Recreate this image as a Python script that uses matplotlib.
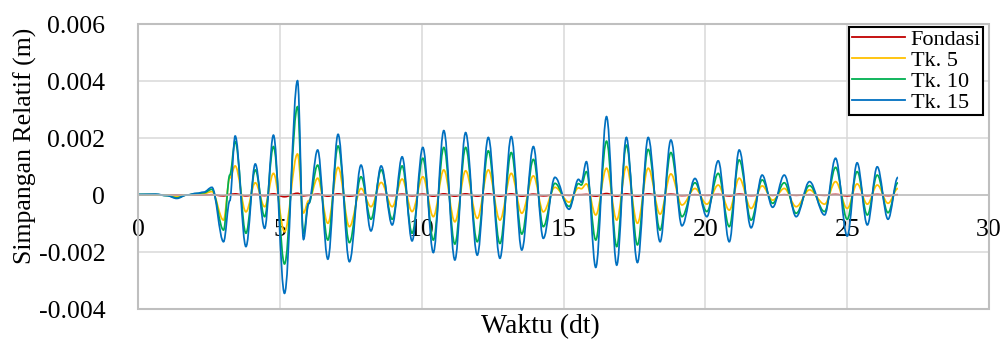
import matplotlib

matplotlib.use("Agg")
import matplotlib.pyplot as plt
from matplotlib.lines import Line2D
from matplotlib.patches import PathPatch, Rectangle
from matplotlib.path import Path

plt.rcParams["font.family"] = ["Liberation Serif", "DejaVu Serif"]

# turning points (peaks / troughs) of the response, time in seconds
t_ext = [
    0.00, 0.60, 1.00, 1.35, 1.70, 2.06, 2.30, 2.59,
    3.00, 3.22, 3.41, 3.79, 4.12, 4.45, 4.76, 5.15, 5.61, 5.82,
    6.00, 6.32, 6.68, 7.04, 7.44, 7.85, 8.20, 8.56, 8.95, 9.30,
    9.65, 10.03, 10.40, 10.77, 11.16, 11.54, 11.95, 12.34, 12.75, 13.15,
    13.52, 13.93, 14.28, 14.69, 15.19, 15.52, 15.62, 15.80, 16.13, 16.51,
    16.87, 17.21, 17.60, 17.98, 18.40, 18.78, 19.17, 19.63, 20.05, 20.45,
    20.84, 21.19, 21.61, 22.00, 22.37, 22.78, 23.20, 23.67, 24.20, 24.59,
    25.00, 25.35, 25.71, 26.06, 26.44, 26.79,
]

fondasi = [
    0.0, 0.0, 0.0, 0.0, 0.0, 0.0, 0.0, 0.00001,
    -0.00003, 0.00002, 0.00004, -0.00003, 0.00002, -0.00002, 0.00004, -0.00006, 0.00006, -0.00003,
    -0.00001, 0.00003, -0.00004, 0.00004, -0.00004, 0.00002, -0.00002, 0.00002, -0.00002, 0.00003,
    -0.00003, 0.00003, -0.00004, 0.00004, -0.00004, 0.00004, -0.00004, 0.00004, -0.00004, 0.00004,
    -0.00004, 0.00003, -0.00003, 0.00001, -0.00001, 0.00001, 0.00001, 0.00002, -0.00004, 0.00005,
    -0.00004, 0.00004, -0.00004, 0.00004, -0.00003, 0.00003, -0.00002, 0.00001, -0.00001, 0.00002,
    -0.00003, 0.00003, -0.00002, 0.00001, -0.00001, 0.00001, -0.00001, 0.00001, -0.00001, 0.00002,
    -0.00003, 0.00002, -0.00002, 0.00002, -0.00002, 0.00001,
]

tk5 = [
    0.00001, 0.00001, -0.00001, -0.00006, 0.0, 0.00003, 0.00005, 0.00012,
    -0.00088, 0.00060, 0.00102, -0.00059, 0.00043, -0.00041, 0.00076, -0.00129, 0.00144, -0.00063,
    -0.00020, 0.00059, -0.00099, 0.00097, -0.00111, 0.00023, -0.00041, 0.00044, -0.00041, 0.00056,
    -0.00058, 0.00064, -0.00076, 0.00088, -0.00094, 0.00085, -0.00082, 0.00088, -0.00088, 0.00076,
    -0.00064, 0.00067, -0.00059, 0.00027, -0.00025, 0.00025, 0.00022, 0.00039, -0.00070, 0.00094,
    -0.00088, 0.00100, -0.00099, 0.00094, -0.00067, 0.00074, -0.00035, 0.00023, -0.00032, 0.00035,
    -0.00053, 0.00059, -0.00047, 0.00032, -0.00018, 0.00023, -0.00041, 0.00018, -0.00032, 0.00047,
    -0.00047, 0.00039, -0.00032, 0.00035, -0.00029, 0.00023,
]

tk10 = [
    0.00002, 0.00002, -0.00002, -0.00010, 0.0, 0.00005, 0.00008, 0.00020,
    -0.00123, 0.00070, 0.00187, -0.00134, 0.00088, -0.00076, 0.00170, -0.00242, 0.00310, -0.00134,
    -0.00030, 0.00105, -0.00158, 0.00172, -0.00167, 0.00064, -0.00085, 0.00088, -0.00085, 0.00102,
    -0.00134, 0.00129, -0.00158, 0.00167, -0.00172, 0.00167, -0.00164, 0.00155, -0.00170, 0.00149,
    -0.00137, 0.00125, -0.00111, 0.00041, -0.00040, 0.00040, 0.00035, 0.00082, -0.00158, 0.00189,
    -0.00181, 0.00175, -0.00175, 0.00160, -0.00123, 0.00149, -0.00076, 0.00043, -0.00058, 0.00076,
    -0.00111, 0.00123, -0.00088, 0.00053, -0.00029, 0.00043, -0.00064, 0.00033, -0.00058, 0.00097,
    -0.00085, 0.00082, -0.00070, 0.00070, -0.00062, 0.00043,
]

tk15 = [
    0.00002, 0.00003, -0.00002, -0.00012, 0.0, 0.00006, 0.00010, 0.00027,
    -0.00164, -0.00020, 0.00207, -0.00181, 0.00109, -0.00117, 0.00210, -0.00345, 0.00401, -0.00156,
    -0.00030, 0.00158, -0.00225, 0.00213, -0.00234, 0.00105, -0.00126, 0.00102, -0.00105, 0.00134,
    -0.00161, 0.00167, -0.00202, 0.00226, -0.00228, 0.00219, -0.00211, 0.00202, -0.00222, 0.00205,
    -0.00193, 0.00170, -0.00152, 0.00062, -0.00050, 0.00055, 0.00045, 0.00117, -0.00254, 0.00275,
    -0.00246, 0.00202, -0.00237, 0.00202, -0.00164, 0.00193, -0.00108, 0.00058, -0.00076, 0.00120,
    -0.00164, 0.00158, -0.00115, 0.00070, -0.00043, 0.00070, -0.00076, 0.00047, -0.00070, 0.00129,
    -0.00144, 0.00113, -0.00105, 0.00099, -0.00085, 0.00062,
]

series_names = ["Fondasi", "Tk. 5", "Tk. 10", "Tk. 15"]
series_values = [fondasi, tk5, tk10, tk15]
series_colors = ["#C00000", "#FFC000", "#00B050", "#0070C0"]

x_ticks = [0, 5, 10, 15, 20, 25, 30]
y_ticks = [-0.004, -0.002, 0, 0.002, 0.004, 0.006]
y_tick_labels = ["-0.004", "-0.002", "0", "0.002", "0.004", "0.006"]


def smooth_path(ts, vs, k=0.36):
    # cubic bezier through the turning points, flat tangent at each one
    verts = [(ts[0], vs[0])]
    codes = [Path.MOVETO]
    for i in range(len(ts) - 1):
        t0, v0, t1, v1 = ts[i], vs[i], ts[i + 1], vs[i + 1]
        dt = t1 - t0
        verts += [(t0 + k * dt, v0), (t1 - k * dt, v1), (t1, v1)]
        codes += [Path.CURVE4] * 3
    return Path(verts, codes)


fig = plt.figure(figsize=(10.08, 3.45), dpi=100)
ax = fig.add_axes([0.1374, 0.1043, 0.8437, 0.8261])

ax.set_xlim(0, 30)
ax.set_ylim(-0.004, 0.006)
ax.set_xticks(x_ticks)
ax.set_xticklabels([str(v) for v in x_ticks])
ax.set_yticks(y_ticks)
ax.set_yticklabels(y_tick_labels)
ax.tick_params(axis="both", length=0, labelsize=18.5)
ax.tick_params(axis="x", pad=17)
ax.tick_params(axis="y", pad=24)
ax.grid(True, color="#D9D9D9", lw=1.1)
ax.set_axisbelow(True)

for side in ["top", "left", "right"]:
    ax.spines[side].set_visible(False)
ax.spines["bottom"].set_position(("data", 0))
ax.spines["bottom"].set_color("#BFBFBF")
ax.spines["bottom"].set_linewidth(1.1)
ax.add_patch(Rectangle((0, 0), 1, 1, transform=ax.transAxes, fill=False,
                       edgecolor="#BFBFBF", lw=1.5, clip_on=False, zorder=3))

for vals, color in zip(series_values, series_colors):
    patch = PathPatch(smooth_path(t_ext, vals), fill=False, edgecolor=color,
                      lw=1.25, zorder=2)
    ax.add_patch(patch)

handles = [Line2D([], [], color=c, lw=1.3) for c in series_colors]
leg = ax.legend(handles, series_names, loc="upper right",
                bbox_to_anchor=(983 / 1008, 1 - 27 / 345), bbox_transform=fig.transFigure,
                fancybox=False, edgecolor="black", framealpha=1, fontsize=16,
                labelspacing=0.02, handlelength=2.4, handletextpad=0.25,
                borderpad=0.1, borderaxespad=0)
leg.get_frame().set_linewidth(1.5)

fig.text(25 / 1008, 1 - 146 / 345, "Simpangan Relatif (m)", rotation=90,
         ha="center", va="center", fontsize=18.5)
fig.text(540 / 1008, 1 - 327 / 345, "Waktu (dt)", ha="center", va="center", fontsize=20)

fig.savefig("out.png", dpi=100)
